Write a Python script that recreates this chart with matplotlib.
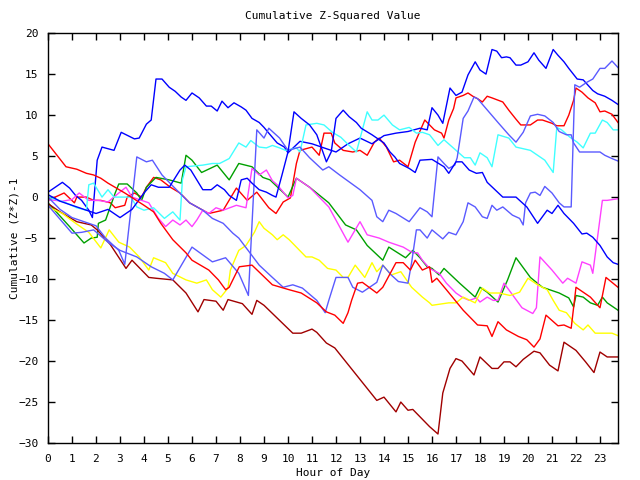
import matplotlib
matplotlib.use("Agg")
import matplotlib.pyplot as plt

# hour of day / cumulative (z*z)-1
red_up_h = [0, 0.67, 1.1, 1.2, 1.6, 1.9, 2.2, 2.6, 2.8, 3.2, 3.3, 3.6, 3.9, 4.1, 4.4, 4.7, 5.1, 5.5, 5.9, 6.7, 7.3, 7.85, 8.3, 8.7, 9.2, 9.5, 9.8, 10.1, 10.35, 10.5, 11.0, 11.3, 11.5, 11.8, 11.95, 12.3, 12.7, 13.0, 13.3, 13.6, 13.8, 14.1, 14.4, 14.65, 15.0, 15.3, 15.7, 15.9, 16.1, 16.4, 16.5, 16.7, 16.9, 17.0, 17.3, 17.5, 17.7, 17.9, 18.1, 18.3, 18.5, 18.95, 19.2, 19.5, 19.7, 20.1, 20.4, 20.6, 21.0, 21.2, 21.5, 21.7, 21.9, 22.0, 22.25, 22.5, 22.8, 23.0, 23.2, 23.5, 23.75]
red_up_v = [-0.4, 0.5, -0.7, 0, 0, -0.4, -0.4, -0.7, -1.3, -1.0, 0, 0.5, 0, 1.2, 2.4, 2.1, 1.2, 0.5, -0.7, -2.0, -1.6, 1.1, -0.4, 0.6, -1.3, -2.0, -0.6, -0.1, 4.1, 5.7, 6.1, 5.1, 7.8, 7.8, 6.6, 5.7, 5.5, 5.7, 5.1, 6.7, 7.2, 6.1, 4.3, 4.5, 3.7, 6.7, 9.4, 8.8, 8.2, 7.8, 7.2, 9.4, 10.8, 12.1, 12.4, 12.7, 12.3, 12.0, 11.6, 12.3, 12.1, 11.6, 10.6, 9.5, 8.8, 8.8, 9.4, 9.4, 9.0, 8.7, 8.7, 10.0, 11.8, 13.3, 12.8, 12.1, 11.5, 10.4, 10.5, 10.1, 9.1]

red_low_h = [0, 0.75, 1.2, 1.6, 1.9, 2.2, 2.5, 3.2, 4.0, 4.4, 4.7, 5.2, 5.75, 6.0, 6.7, 7.1, 7.4, 7.55, 7.97, 8.5, 9.35, 10.05, 10.55, 11.2, 11.6, 11.95, 12.3, 12.5, 12.65, 12.9, 13.1, 13.7, 13.95, 14.5, 14.8, 15.1, 15.3, 15.6, 15.9, 16.0, 16.2, 16.6, 17.3, 17.5, 17.9, 18.3, 18.5, 18.75, 19.1, 19.6, 19.95, 20.25, 20.5, 20.75, 21.25, 21.5, 21.8, 22.0, 22.6, 23.0, 23.25, 23.5, 23.75]
red_low_v = [6.5, 3.7, 3.4, 2.9, 2.7, 2.3, 1.7, 0.5, -1.0, -1.8, -3.2, -5.2, -6.8, -7.7, -8.9, -10.1, -11.3, -11.0, -8.5, -8.3, -10.7, -11.3, -11.7, -12.9, -14.0, -14.4, -15.4, -14.1, -12.6, -10.5, -10.4, -11.7, -11.0, -8.0, -8.0, -8.9, -7.7, -8.9, -8.5, -10.4, -9.9, -11.3, -13.8, -14.4, -15.6, -15.7, -17.0, -15.2, -16.2, -17.0, -17.4, -18.3, -17.3, -14.4, -15.7, -15.6, -16.0, -11.0, -12.2, -13.5, -9.8, -10.4, -11.0]

dark_red_h = [0, 0.5, 1.2, 1.8, 2.05, 2.6, 3.25, 3.5, 4.2, 4.5, 5.2, 5.75, 6.25, 6.5, 7.0, 7.3, 7.5, 8.1, 8.5, 8.7, 9.0, 10.2, 10.55, 11.0, 11.2, 11.6, 11.95, 13.7, 14.0, 14.5, 14.7, 15.0, 15.2, 15.5, 15.9, 16.25, 16.45, 16.75, 17.0, 17.25, 17.75, 18.0, 18.5, 18.75, 19.0, 19.25, 19.5, 19.8, 20.25, 20.5, 20.9, 21.25, 21.5, 22.0, 22.4, 22.75, 23.0, 23.3, 23.75]
dark_red_v = [-0.8, -1.8, -3.0, -3.4, -4.0, -5.8, -8.7, -7.7, -9.8, -9.9, -10.1, -11.7, -14.0, -12.5, -12.7, -13.8, -12.5, -13.0, -14.3, -12.6, -13.2, -16.6, -16.6, -16.1, -16.5, -17.8, -18.4, -24.8, -24.4, -26.2, -25.0, -26.0, -25.9, -26.8, -28.0, -28.9, -23.9, -20.9, -19.7, -20.0, -21.7, -19.5, -20.9, -20.9, -20.1, -20.1, -20.7, -19.8, -18.8, -19.0, -20.5, -21.2, -17.7, -18.7, -20.1, -21.4, -18.9, -19.5, -19.5]

green_h = [0, 0.9, 1.5, 1.8, 2.05, 2.1, 2.4, 2.8, 2.95, 3.3, 3.7, 3.9, 4.1, 4.5, 5.05, 5.55, 5.75, 6.0, 6.4, 7.05, 7.55, 7.95, 8.5, 8.95, 9.25, 10.0, 10.35, 10.9, 11.7, 12.4, 12.85, 13.3, 13.95, 14.2, 14.9, 15.2, 15.5, 15.8, 16.0, 16.3, 16.5, 17.15, 17.8, 18.0, 18.3, 18.75, 19.15, 19.5, 20.1, 20.6, 21.3, 21.7, 21.9, 22.0, 22.3, 22.6, 22.9, 23.1, 23.3, 23.55, 23.75]
green_v = [-0.7, -3.6, -5.6, -5.0, -4.9, -3.2, -2.8, 0.5, 1.6, 1.6, 0.5, -0.4, 1.2, 2.4, 2.1, 1.7, 5.1, 4.5, 3.0, 3.9, 2.1, 4.1, 3.7, 2.4, 2.1, 0, 2.3, 1.2, -0.7, -3.4, -4.0, -5.9, -7.7, -6.1, -7.4, -6.5, -7.4, -8.5, -8.7, -9.5, -8.7, -10.5, -12.2, -11.0, -11.6, -12.8, -10.1, -7.4, -9.8, -11.0, -11.7, -12.3, -13.4, -12.0, -12.2, -12.9, -13.2, -12.2, -12.9, -13.4, -13.8]

magenta_h = [0, 0.6, 1.0, 1.3, 1.7, 2.1, 2.5, 2.95, 3.25, 3.5, 3.9, 4.2, 4.6, 4.9, 5.2, 5.5, 5.75, 6.0, 6.2, 6.45, 6.7, 7.0, 7.3, 7.85, 8.25, 8.5, 8.8, 9.1, 9.35, 9.55, 10.0, 10.2, 10.35, 10.9, 11.7, 12.5, 13.0, 13.3, 13.8, 14.2, 14.8, 15.2, 15.4, 15.6, 15.9, 16.3, 16.6, 17.0, 17.25, 17.55, 17.85, 18.0, 18.3, 18.55, 18.75, 19.0, 19.3, 19.75, 20.2, 20.35, 20.5, 21.0, 21.45, 21.65, 22.0, 22.25, 22.6, 22.7, 23.1, 23.3, 23.75]
magenta_v = [-0.3, -0.5, -0.3, 0.5, -0.4, -0.4, -0.6, 0.5, 1.2, 0, -0.4, -0.7, -2.6, -3.6, -2.8, -3.4, -2.8, -3.6, -2.8, -1.6, -2.0, -1.3, -1.6, -1.0, -1.3, 3.5, 2.7, 3.3, 2.0, 1.5, -0.1, 0.2, 2.3, 1.2, -1.2, -5.5, -3.0, -4.6, -5.0, -5.5, -6.1, -6.8, -6.8, -7.7, -8.7, -9.3, -10.5, -11.7, -12.2, -12.6, -12.3, -12.8, -12.2, -12.6, -12.6, -10.5, -11.7, -13.5, -14.2, -13.5, -7.3, -8.9, -10.5, -9.9, -10.5, -7.9, -8.3, -9.3, -0.4, -0.4, -0.2]

yellow_h = [0, 0.6, 1.15, 1.7, 2.2, 2.55, 2.95, 3.4, 3.8, 4.2, 4.4, 4.9, 5.2, 5.75, 6.2, 6.6, 6.85, 7.2, 7.5, 7.6, 7.95, 8.25, 8.6, 8.8, 9.0, 9.35, 9.55, 9.8, 10.05, 10.75, 11.0, 11.3, 11.65, 12.0, 12.3, 12.5, 12.8, 13.2, 13.5, 13.7, 13.95, 14.3, 14.7, 15.15, 15.6, 15.9, 16.0, 16.7, 17.0, 17.3, 17.8, 18.1, 18.4, 18.8, 19.25, 19.65, 20.0, 20.4, 20.8, 21.05, 21.3, 21.6, 21.95, 22.3, 22.5, 22.8, 23.1, 23.5, 23.75]
yellow_v = [-1.2, -2.0, -3.2, -4.3, -6.2, -4.0, -5.5, -6.1, -7.3, -8.9, -7.4, -8.0, -9.3, -10.1, -10.5, -10.1, -11.3, -12.2, -11.1, -8.9, -6.5, -5.9, -4.3, -3.0, -3.8, -4.6, -5.2, -4.6, -5.2, -7.3, -7.3, -7.7, -8.7, -8.9, -9.8, -9.8, -8.3, -9.8, -8.0, -9.1, -8.3, -9.5, -9.1, -11.0, -12.2, -12.9, -13.2, -12.9, -12.9, -12.2, -12.9, -11.1, -11.7, -11.7, -12.0, -11.6, -9.9, -10.7, -11.3, -12.6, -13.8, -14.1, -15.4, -16.2, -15.6, -16.6, -16.6, -16.6, -16.9]

cyan_h = [0, 0.67, 1.2, 1.6, 1.7, 1.9, 2.25, 2.5, 2.75, 3.45, 3.7, 4.0, 4.4, 4.85, 5.2, 5.5, 5.6, 5.75, 6.45, 6.85, 7.15, 7.55, 7.95, 8.25, 8.45, 8.8, 9.1, 9.35, 9.65, 9.9, 10.35, 10.5, 10.75, 11.2, 11.5, 11.85, 12.2, 12.55, 12.85, 13.3, 13.5, 13.75, 14.0, 14.35, 14.65, 15.05, 15.35, 15.6, 15.9, 16.25, 16.5, 17.35, 17.6, 17.8, 18.0, 18.3, 18.5, 18.75, 19.2, 19.5, 20.1, 20.4, 20.7, 21.05, 21.2, 21.4, 21.75, 22.05, 22.3, 22.6, 22.8, 23.1, 23.3, 23.55, 23.75]
cyan_v = [0, -0.6, -1.3, -1.6, 1.5, 1.7, 0, 0.9, 0, 0, -1.2, -1.6, -1.3, -2.6, -1.8, -2.8, 2.1, 3.7, 3.9, 4.1, 4.1, 4.7, 6.6, 6.1, 6.9, 6.1, 6.0, 6.3, 6.0, 5.7, 6.0, 5.5, 8.8, 9.0, 8.8, 7.9, 7.3, 6.3, 5.5, 10.4, 9.4, 9.4, 10.0, 8.8, 8.2, 8.5, 7.8, 7.9, 7.6, 6.3, 7.0, 4.8, 4.8, 3.9, 5.4, 4.8, 3.7, 7.6, 7.2, 6.1, 5.7, 5.1, 4.5, 3.0, 8.5, 8.2, 7.3, 6.7, 6.0, 7.8, 7.8, 9.4, 9.1, 8.2, 8.2]

blue_a_h = [0, 0.3, 0.6, 0.9, 1.15, 1.4, 1.7, 1.85, 2.05, 2.25, 2.75, 3.05, 3.6, 3.8, 4.1, 4.3, 4.5, 4.75, 5.05, 5.3, 5.55, 5.75, 6.0, 6.3, 6.6, 6.8, 7.05, 7.25, 7.5, 7.75, 8.05, 8.25, 8.5, 8.8, 9.0, 9.2, 9.55, 9.85, 10.0, 10.5, 11.0, 11.5, 12.0, 12.5, 13.0, 13.5, 14.0, 14.5, 15.0, 15.5, 15.8, 16.0, 16.25, 16.45, 16.75, 17.0, 17.25, 17.5, 17.8, 18.0, 18.25, 18.5, 18.7, 18.9, 19.1, 19.25, 19.5, 19.7, 20.0, 20.25, 20.45, 20.75, 21.05, 21.25, 21.5, 21.7, 22.05, 22.3, 22.7, 22.9, 23.2, 23.5, 23.75]
blue_a_v = [0.6, 1.2, 1.8, 1.1, 0.2, -0.4, -1.6, -2.5, 4.5, 6.1, 5.7, 7.9, 7.1, 7.2, 8.9, 9.4, 14.4, 14.4, 13.4, 12.9, 12.2, 11.8, 12.7, 12.1, 11.1, 11.1, 10.5, 11.7, 10.9, 11.5, 11.0, 10.6, 9.6, 9.1, 8.5, 7.8, 6.6, 6.1, 5.4, 6.8, 6.5, 6.0, 5.5, 6.5, 7.2, 6.5, 7.5, 7.8, 8.0, 8.4, 8.2, 10.9, 10.0, 9.0, 13.3, 12.4, 12.8, 14.9, 16.5, 15.5, 15.0, 18.0, 17.8, 17.0, 17.1, 17.0, 16.1, 16.1, 16.5, 17.6, 16.7, 15.7, 18.0, 17.3, 16.5, 15.7, 14.4, 14.3, 13.0, 12.6, 12.3, 11.8, 11.3]

blue_b_h = [0, 0.5, 1.0, 1.5, 2.0, 2.5, 3.0, 3.5, 4.0, 4.3, 4.6, 5.05, 5.5, 5.7, 5.95, 6.45, 6.8, 7.05, 7.35, 7.55, 7.85, 8.05, 8.3, 8.5, 8.8, 9.1, 9.35, 9.5, 9.75, 10.0, 10.25, 10.55, 10.9, 11.2, 11.6, 11.8, 12.0, 12.3, 12.55, 12.85, 13.05, 13.5, 14.0, 14.25, 14.45, 14.65, 15.05, 15.3, 15.5, 16.0, 16.5, 16.7, 17.0, 17.25, 17.55, 17.85, 18.1, 18.3, 18.95, 19.5, 19.95, 20.4, 20.8, 21.0, 21.25, 21.5, 21.9, 22.25, 22.45, 22.7, 23.0, 23.3, 23.55, 23.75]
blue_b_v = [0.3, -0.5, -1.0, -1.5, -2.0, -1.5, -2.5, -1.5, 0.5, 1.5, 1.2, 1.2, 3.3, 3.9, 3.3, 0.9, 0.9, 1.5, 0.9, 0.2, -0.4, 2.1, 2.3, 1.7, 0.9, 0.6, 0.2, 0, 2.7, 5.5, 10.4, 9.6, 8.8, 7.6, 4.3, 5.5, 9.6, 10.6, 9.8, 9.1, 8.4, 7.6, 6.6, 5.5, 4.9, 4.1, 3.5, 3.0, 4.5, 4.6, 3.7, 2.9, 4.3, 4.3, 3.3, 2.9, 3.0, 1.8, 0, 0, -1.2, -3.2, -1.6, -2.0, -1.0, -2.0, -3.2, -4.5, -4.4, -4.9, -5.9, -7.3, -8.0, -8.2]

# light blue lines
lblue_a_h = [0, 0.5, 1.0, 1.5, 2.0, 2.4, 2.95, 3.2, 3.7, 4.1, 4.35, 4.75, 5.35, 5.9, 6.45, 6.85, 7.3, 7.7, 7.95, 8.8, 9.35, 9.8, 10.2, 10.6, 11.2, 11.55, 11.7, 12.0, 12.5, 12.7, 13.1, 13.4, 13.7, 13.95, 14.3, 14.6, 15.0, 15.15, 15.35, 15.5, 15.8, 16.0, 16.45, 16.7, 17.0, 17.3, 17.5, 17.8, 18.1, 18.3, 18.5, 18.7, 18.95, 19.35, 19.65, 19.8, 19.9, 20.1, 20.3, 20.5, 20.7, 21.0, 21.3, 21.5, 21.8, 21.95, 22.15, 22.45, 22.7, 23.0, 23.2, 23.5, 23.75]
lblue_a_v = [0, -1.5, -2.5, -3.0, -3.5, -5.0, -6.5, -8.2, 4.9, 4.3, 4.5, 2.7, 0.9, -0.7, -1.6, -2.6, -3.2, -4.4, -5.0, -8.3, -9.8, -11.0, -10.7, -11.1, -12.6, -14.1, -12.6, -9.8, -9.8, -11.0, -11.6, -11.0, -10.4, -8.3, -9.5, -10.3, -10.5, -8.0, -4.0, -4.0, -5.0, -4.0, -5.1, -4.3, -4.6, -3.0, -0.7, -1.2, -2.4, -2.6, -1.0, -1.6, -1.2, -2.2, -2.6, -3.4, -0.7, 0.5, 0.6, 0.2, 1.3, 0.5, -0.7, -1.2, -1.2, 13.7, 13.4, 14.0, 14.4, 15.7, 15.7, 16.6, 15.8]

lblue_b_h = [0, 0.5, 1.0, 1.4, 1.9, 2.5, 3.0, 3.7, 4.3, 4.85, 5.2, 6.0, 6.85, 7.4, 7.95, 8.35, 8.7, 9.0, 9.2, 9.65, 10.0, 10.5, 10.9, 11.45, 11.7, 12.15, 13.0, 13.5, 13.7, 13.95, 14.2, 14.5, 15.05, 15.5, 15.8, 16.0, 16.25, 16.5, 16.7, 16.95, 17.05, 17.3, 17.5, 17.75, 17.9, 18.75, 19.2, 19.5, 19.8, 20.1, 20.4, 20.7, 21.05, 21.3, 21.6, 21.8, 21.9, 22.15, 22.5, 23.0, 23.2, 23.5, 23.75]
lblue_b_v = [-1.0, -2.7, -4.4, -4.3, -4.0, -5.5, -6.5, -7.3, -8.5, -9.3, -10.1, -6.1, -7.9, -7.4, -9.3, -12.0, 8.2, 7.2, 8.4, 7.2, 5.7, 6.1, 4.8, 3.3, 3.7, 2.7, 0.9, -0.4, -2.4, -3.0, -1.6, -2.0, -3.0, -1.3, -1.8, -2.4, 4.9, 4.1, 3.5, 3.9, 4.8, 9.6, 10.5, 12.2, 12.0, 9.1, 7.6, 6.7, 7.9, 9.9, 10.1, 9.9, 9.1, 8.0, 7.6, 7.6, 6.6, 5.5, 5.5, 5.5, 5.1, 4.7, 4.4]

series = [
    (red_up_h, red_up_v, "#ff0000"),
    (green_h, green_v, "#00a000"),
    (blue_a_h, blue_a_v, "#0000ff"),
    (magenta_h, magenta_v, "#ff40ff"),
    (cyan_h, cyan_v, "#40ffff"),
    (dark_red_h, dark_red_v, "#a00000"),
    (yellow_h, yellow_v, "#ffff00"),
    (lblue_a_h, lblue_a_v, "#5a5aff"),
    (lblue_b_h, lblue_b_v, "#5a5aff"),
    (blue_b_h, blue_b_v, "#0000ff"),
    (red_low_h, red_low_v, "#ff0000"),
]

plt.rcParams["font.family"] = "DejaVu Sans Mono"
plt.rcParams["font.size"] = 8

fig = plt.figure(figsize=(6.4, 4.8), dpi=100)
ax = fig.add_axes([0.075, 0.077, 0.8906, 0.854])

for h, v, c in series:
    ax.plot(h, v, color=c, lw=1.0)

ax.set_xlim(0, 23.75)
ax.set_ylim(-30, 20)
ax.set_xticks(range(0, 24))
ax.set_yticks(range(-30, 21, 5))
ax.tick_params(direction="in", length=5, top=True, right=True, width=1)
ax.tick_params(axis="x", pad=8)
ax.tick_params(axis="y", pad=7)
for s in ax.spines.values():
    s.set_linewidth(1)

ax.set_title("Cumulative Z-Squared Value", fontsize=8, pad=10)
ax.set_xlabel("Hour of Day", fontsize=8, labelpad=3)
ax.set_ylabel("Cumulative (Z*Z)-1", fontsize=8, labelpad=-1)

fig.savefig("out.png", dpi=100)
